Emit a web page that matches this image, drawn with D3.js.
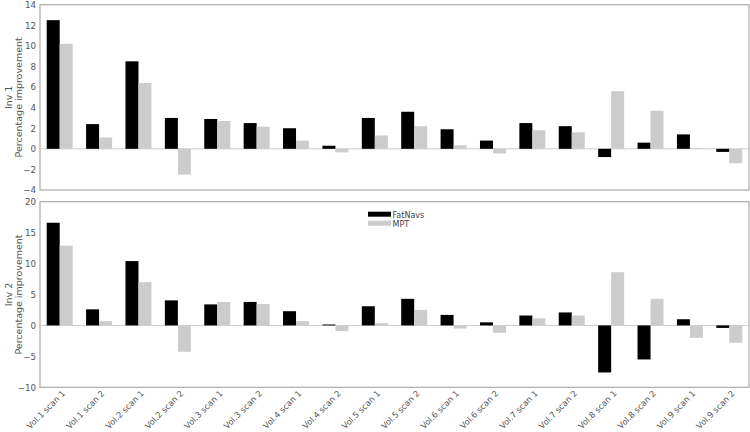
<!DOCTYPE html>
<html>
<head>
<meta charset="utf-8">
<title>FatNavs vs MPT</title>
<script src="https://d3js.org/d3.v7.min.js"></script>
<style>
body { margin: 0; background: #fff; font-family: 'DejaVu Sans', sans-serif; }
.tick text { fill: #555; }
</style>
</head>
<body>
<script>
// data
var scans = ["Vol.1 scan 1","Vol.1 scan 2","Vol.2 scan 1","Vol.2 scan 2","Vol.3 scan 1","Vol.3 scan 2",
  "Vol.4 scan 1","Vol.4 scan 2","Vol.5 scan 1","Vol.5 scan 2","Vol.6 scan 1","Vol.6 scan 2",
  "Vol.7 scan 1","Vol.7 scan 2","Vol.8 scan 1","Vol.8 scan 2","Vol.9 scan 1","Vol.9 scan 2"];
var inv1FatNavs = [12.5, 2.4, 8.5, 3.0, 2.9, 2.5, 2.0, 0.3, 3.0, 3.6, 1.9, 0.8, 2.5, 2.2, -0.8, 0.6, 1.4, -0.3];
var inv1MPT     = [10.2, 1.1, 6.4, -2.5, 2.7, 2.15, 0.8, -0.35, 1.3, 2.2, 0.35, -0.45, 1.8, 1.6, 5.6, 3.7, 0.1, -1.4];
var inv2FatNavs = [16.6, 2.6, 10.4, 4.05, 3.4, 3.8, 2.3, 0.15, 3.1, 4.3, 1.7, 0.5, 1.6, 2.1, -7.6, -5.5, 1.0, -0.4];
var inv2MPT     = [12.9, 0.7, 7.0, -4.25, 3.8, 3.45, 0.7, -0.9, 0.35, 2.5, -0.5, -1.2, 1.15, 1.6, 8.6, 4.3, -2.0, -2.8];
var inv1Ticks = [-4, -2, 0, 2, 4, 6, 8, 10, 12, 14];
var inv2Ticks = [-10, -5, 0, 5, 10, 15, 20];
var seriesNames = ["FatNavs", "MPT"];
var seriesColors = ["#000000", "#cccccc"];

var w = 750, h = 432;
var left = 40, right = 749;

var svg = d3.select("body").append("svg")
  .attr("width", w)
  .attr("height", h);

var x = d3.scaleLinear().domain([0, scans.length]).range([left, right]);
var barW = 0.33;

function panel(top, bottom, domain, ticks, fat, mpt, title) {
  var y = d3.scaleLinear().domain(domain).range([bottom, top]);
  var g = svg.append("g");

  // frame
  g.append("rect")
    .attr("x", left).attr("y", top)
    .attr("width", right - left).attr("height", bottom - top)
    .attr("fill", "none").attr("stroke", "#aaa").attr("stroke-width", 1.2);

  // zero line
  g.append("line")
    .attr("x1", left).attr("x2", right)
    .attr("y1", y(0)).attr("y2", y(0))
    .attr("stroke", "#ccc").attr("stroke-width", 1);

  var yAxis = d3.axisLeft(y).tickValues(ticks).tickSize(0).tickPadding(4);
  var ya = g.append("g").attr("transform", "translate(" + left + ",0)").call(yAxis);
  ya.select(".domain").remove();
  ya.selectAll("text").attr("font-size", 8.7).attr("font-family", "DejaVu Sans");

  [fat, mpt].forEach(function(vals, k) {
    g.append("g").selectAll("rect")
      .data(vals)
      .enter()
      .append("rect")
      .attr("x", function(d, i) { return x(i + 0.17 + k * barW); })
      .attr("width", x(barW) - x(0))
      .attr("y", function(d) { return y(Math.max(0, d)); })
      .attr("height", function(d) { return Math.abs(y(d) - y(0)); })
      .attr("fill", seriesColors[k]);
  });

  var lab = g.append("text")
    .attr("transform", "translate(0," + ((top + bottom) / 2) + ") rotate(-90)")
    .attr("text-anchor", "middle")
    .attr("font-size", 9.5)
    .attr("fill", "#555");
  lab.append("tspan").attr("x", 0).attr("y", 11.5).text(title);
  lab.append("tspan").attr("x", 0).attr("y", 21.5).text("Percentage improvement");
  return y;
}

panel(4.7, 190, [-4, 14], inv1Ticks, inv1FatNavs, inv1MPT, "Inv 1");
panel(201.7, 387.3, [-10, 20], inv2Ticks, inv2FatNavs, inv2MPT, "Inv 2");

// x labels, rotated
svg.append("g").selectAll("text")
  .data(scans)
  .enter()
  .append("text")
  .attr("transform", function(d, i) { return "translate(" + (x(i + 0.5) + 6) + ",394) rotate(-45)"; })
  .attr("text-anchor", "end")
  .attr("font-size", 8.3)
  .attr("fill", "#555")
  .text(function(d) { return d; });

// legend
var legend = svg.append("g");
seriesNames.forEach(function(name, k) {
  legend.append("rect")
    .attr("x", 368).attr("y", 211.7 + k * 9)
    .attr("width", 23).attr("height", 5)
    .attr("fill", seriesColors[k]);
  legend.append("text")
    .attr("x", 392.5).attr("y", 217.5 + k * 9)
    .attr("font-size", 8)
    .attr("fill", "#444")
    .text(name);
});
</script>
</body>
</html>
